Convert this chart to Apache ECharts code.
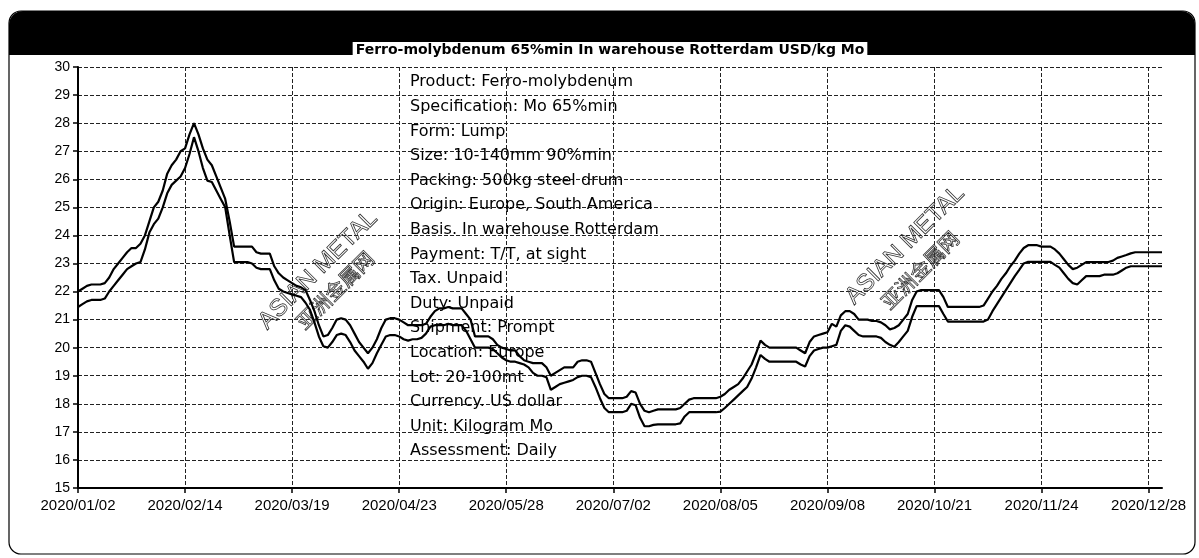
<!DOCTYPE html>
<html>
<head>
<meta charset="utf-8">
<script src="https://cdn.jsdelivr.net/npm/echarts@6/dist/echarts.min.js"></script>
<style>
html,body{margin:0;padding:0;background:#fff;}
#chart{width:1199px;height:558px;}
</style>
</head>
<body>
<div id="chart"></div>
<script>
const titleText = 'Ferro-molybdenum 65%min In warehouse Rotterdam USD/kg Mo';
const tickLabels = ['2020/01/02','2020/02/14','2020/03/19','2020/04/23','2020/05/28','2020/07/02','2020/08/05','2020/09/08','2020/10/21','2020/11/24','2020/12/28'];
const pointsPerTick = 24;
const totalPoints = 244;
const specLines = [
  'Product: Ferro-molybdenum',
  'Specification: Mo 65%min',
  'Form: Lump',
  'Size: 10-140mm 90%min',
  'Packing: 500kg steel drum',
  'Origin: Europe, South America',
  'Basis. In warehouse Rotterdam',
  'Payment: T/T, at sight',
  'Tax. Unpaid',
  'Duty: Unpaid',
  'Shipment: Prompt',
  'Location: Europe',
  'Lot: 20-100mt',
  'Currency. US dollar',
  'Unit: Kilogram Mo',
  'Assessment: Daily'
];
const highValues = [
  22.0,22.1,22.2,22.25,22.25,22.25,22.3,22.5,22.8,23.0,
  23.2,23.4,23.55,23.55,23.7,24.0,24.5,25.0,25.2,25.6,
  26.2,26.5,26.7,27.0,27.1,27.6,28.0,27.6,27.1,26.7,
  26.5,26.1,25.7,25.3,24.5,23.6,23.6,23.6,23.6,23.6,
  23.4,23.35,23.35,23.35,22.9,22.65,22.5,22.4,22.3,22.2,
  22.15,22.05,21.7,21.3,20.8,20.4,20.45,20.7,21.0,21.05,
  21.0,20.8,20.5,20.2,20.0,19.8,20.0,20.3,20.7,21.0,
  21.05,21.05,21.0,20.9,20.8,20.8,20.8,20.8,20.85,21.1,
  21.3,21.4,21.4,21.45,21.4,21.4,21.4,21.2,21.0,20.4,
  20.4,20.4,20.4,20.3,20.1,20.0,19.95,19.9,19.9,19.7,
  19.55,19.5,19.45,19.45,19.45,19.3,19.0,19.1,19.2,19.3,
  19.3,19.3,19.5,19.55,19.55,19.5,19.1,18.7,18.35,18.2,
  18.2,18.2,18.2,18.25,18.45,18.4,18.0,17.75,17.7,17.75,
  17.8,17.8,17.8,17.8,17.8,17.85,18.0,18.15,18.2,18.2,
  18.2,18.2,18.2,18.2,18.25,18.35,18.5,18.6,18.7,18.9,
  19.15,19.4,19.8,20.25,20.1,20.0,20.0,20.0,20.0,20.0,
  20.0,20.0,19.9,19.8,20.2,20.4,20.45,20.5,20.55,20.85,
  20.75,21.15,21.3,21.3,21.2,21.0,21.0,21.0,20.95,20.95,
  20.9,20.8,20.65,20.7,20.8,21.0,21.2,21.7,22.0,22.05,
  22.05,22.05,22.05,22.05,21.8,21.45,21.45,21.45,21.45,21.45,
  21.45,21.45,21.45,21.5,21.75,22.0,22.2,22.45,22.65,22.9,
  23.1,23.35,23.55,23.65,23.65,23.65,23.6,23.6,23.6,23.5,
  23.35,23.15,22.95,22.8,22.85,22.95,23.05,23.05,23.05,23.05,
  23.05,23.05,23.1,23.2,23.25,23.3,23.36,23.4,23.4,23.4,
  23.4,23.4,23.4,23.4
];
const lowValues = [
  21.45,21.55,21.65,21.7,21.7,21.7,21.75,22.0,22.2,22.4,
  22.6,22.8,22.9,23.0,23.05,23.5,24.1,24.4,24.6,25.0,
  25.5,25.8,25.95,26.1,26.4,26.9,27.5,27.0,26.4,25.95,
  25.9,25.6,25.3,25.0,24.0,23.05,23.05,23.05,23.05,23.0,
  22.85,22.8,22.8,22.8,22.4,22.1,22.0,21.95,21.9,21.85,
  21.8,21.6,21.35,20.9,20.4,20.05,20.0,20.2,20.45,20.5,
  20.45,20.2,19.9,19.7,19.5,19.25,19.45,19.8,20.1,20.4,
  20.45,20.45,20.4,20.3,20.25,20.3,20.3,20.35,20.5,20.75,
  20.8,20.8,20.8,20.85,20.8,20.8,20.8,20.6,20.3,20.0,
  20.0,20.0,20.0,19.95,19.8,19.65,19.55,19.5,19.5,19.45,
  19.4,19.3,19.1,19.0,19.0,18.95,18.5,18.6,18.7,18.75,
  18.8,18.85,18.95,19.0,19.0,18.95,18.6,18.2,17.85,17.7,
  17.7,17.7,17.7,17.75,18.0,17.95,17.5,17.2,17.2,17.25,
  17.27,17.27,17.27,17.27,17.27,17.3,17.55,17.7,17.7,17.7,
  17.7,17.7,17.7,17.7,17.72,17.85,18.0,18.15,18.3,18.45,
  18.6,18.9,19.3,19.74,19.6,19.5,19.5,19.5,19.5,19.5,
  19.5,19.5,19.4,19.33,19.7,19.9,19.95,20.0,20.0,20.05,
  20.1,20.6,20.8,20.75,20.6,20.45,20.4,20.4,20.4,20.4,
  20.35,20.2,20.1,20.03,20.2,20.4,20.6,21.1,21.48,21.48,
  21.48,21.48,21.48,21.48,21.2,20.93,20.93,20.93,20.93,20.93,
  20.93,20.93,20.93,20.93,21.0,21.3,21.55,21.8,22.05,22.3,
  22.55,22.77,23.0,23.06,23.06,23.06,23.06,23.06,23.06,22.95,
  22.85,22.65,22.45,22.3,22.25,22.4,22.55,22.55,22.55,22.55,
  22.6,22.6,22.6,22.65,22.75,22.85,22.9,22.9,22.9,22.9,
  22.9,22.9,22.9,22.9
];

const categories = [];
for (let i = 0; i < totalPoints; i++) {
  const k = Math.floor(i / pointsPerTick), off = i % pointsPerTick;
  categories.push(off === 0 ? tickLabels[k] : tickLabels[k] + ' +' + off);
}

const FONT = '"Liberation Sans", Arial, sans-serif';
const TFONT = '"DejaVu Sans", Verdana, sans-serif';
const chart = echarts.init(document.getElementById('chart'));
chart.setOption({
  animation: false,
  backgroundColor: '#fff',
  grid: { left: 78, right: 37, top: 67, bottom: 70 },
  xAxis: {
    type: 'category',
    data: categories,
    boundaryGap: false,
    axisLine: { lineStyle: { color: '#000', width: 2 } },
    axisTick: { interval: pointsPerTick - 1, length: 5, lineStyle: { color: '#000', width: 1.5 } },
    axisLabel: { interval: pointsPerTick - 1, color: '#000', fontSize: 15, margin: 10, fontFamily: FONT },
    splitLine: { show: true, interval: pointsPerTick - 1, lineStyle: { color: '#222', type: [4, 2], width: 1 } }
  },
  yAxis: {
    type: 'value',
    min: 15, max: 30, interval: 1,
    axisLine: { show: true, lineStyle: { color: '#000', width: 2 } },
    axisTick: { show: true, length: 5, lineStyle: { color: '#000', width: 1.5 } },
    axisLabel: { color: '#000', fontSize: 14, margin: 8, fontFamily: FONT },
    splitLine: { show: true, lineStyle: { color: '#222', type: [4, 2], width: 1 } }
  },
  series: [
    { type: 'line', data: highValues, showSymbol: false, lineStyle: { color: '#000', width: 2.2 }, z: 5 },
    { type: 'line', data: lowValues, showSymbol: false, lineStyle: { color: '#000', width: 2.2 }, z: 5 }
  ],
  graphic: [
    { type: 'rect', shape: { x: 9, y: 11, width: 1186, height: 543, r: 12 }, style: { fill: 'none', stroke: '#000', lineWidth: 1.2 }, z: 1 },
    { type: 'rect', shape: { x: 9, y: 11, width: 1186, height: 44, r: [14, 14, 0, 0] }, style: { fill: '#000' }, z: 2 },
    { type: 'text', x: 610, y: 50, z: 3, style: { text: titleText, font: 'bold 14px ' + TFONT, fill: '#000', align: 'center', verticalAlign: 'middle', backgroundColor: '#fff', padding: [1, 3] } },
    { type: 'text', x: 410, y: 70, z: 4, style: { text: specLines.join('\n'), font: '16px ' + TFONT, fill: '#000', align: 'left', verticalAlign: 'top', lineHeight: 24.6 } },
    { type: 'text', x: 318, y: 270, rotation: Math.PI / 4, z: 4, style: { text: 'ASIAN METAL', font: '24px ' + FONT, fill: 'none', stroke: '#333', lineWidth: 0.8, align: 'center', verticalAlign: 'middle' } },
    { type: 'text', x: 335, y: 290, rotation: Math.PI / 4, z: 4, style: { text: '亚洲金属网', font: '20px "Noto Sans CJK SC"', fill: 'none', stroke: '#333', lineWidth: 0.8, align: 'center', verticalAlign: 'middle' } },
    { type: 'text', x: 905, y: 245, rotation: Math.PI / 4, z: 4, style: { text: 'ASIAN METAL', font: '24px ' + FONT, fill: 'none', stroke: '#333', lineWidth: 0.8, align: 'center', verticalAlign: 'middle' } },
    { type: 'text', x: 920, y: 270, rotation: Math.PI / 4, z: 4, style: { text: '亚洲金属网', font: '20px "Noto Sans CJK SC"', fill: 'none', stroke: '#333', lineWidth: 0.8, align: 'center', verticalAlign: 'middle' } }
  ]
});
</script>
</body>
</html>
